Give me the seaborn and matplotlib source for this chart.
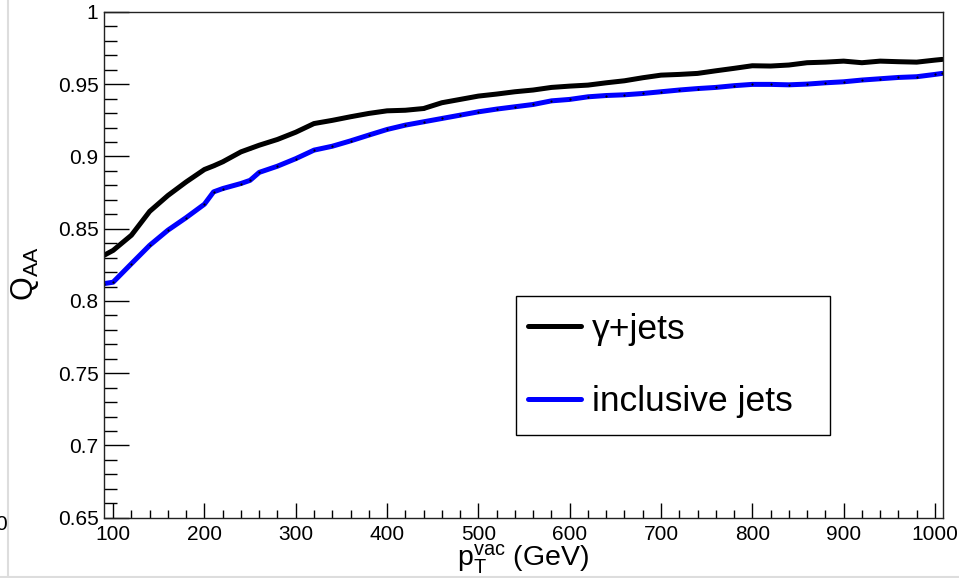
import numpy as np
import pandas as pd
import matplotlib
matplotlib.use("Agg")
import matplotlib.pyplot as plt
import seaborn as sns
from matplotlib.ticker import MultipleLocator
from matplotlib.patches import Rectangle
from matplotlib.lines import Line2D

# ---------------- data ----------------
pt_vac = [90, 100, 120, 140, 160, 180, 200, 210, 220, 240, 250, 260, 280, 300,
          320, 340, 360, 380, 400, 420, 440, 460, 480, 500, 520, 540, 560, 580,
          600, 620, 640, 660, 680, 700, 720, 740, 760, 780, 800, 820, 840, 860,
          880, 900, 920, 940, 960, 980, 1000, 1008]

q_gamma_jets = [0.8316, 0.8350, 0.8455, 0.8620, 0.8730, 0.8824, 0.8910, 0.8935,
                0.8963, 0.9032, 0.9055, 0.9078, 0.9118, 0.9168, 0.9228, 0.9250,
                0.9275, 0.9298, 0.9316, 0.9320, 0.9332, 0.9372, 0.9395, 0.9418,
                0.9432, 0.9448, 0.9460, 0.9478, 0.9487, 0.9494, 0.9510, 0.9524,
                0.9545, 0.9563, 0.9568, 0.9575, 0.9593, 0.9610, 0.9628, 0.9626,
                0.9633, 0.9649, 0.9653, 0.9660, 0.9649, 0.9660, 0.9656, 0.9653,
                0.9667, 0.9672]

q_inclusive_jets = [0.8120, 0.8130, 0.8258, 0.8385, 0.8490, 0.8577, 0.8670, 0.8755,
                    0.8778, 0.8813, 0.8835, 0.8890, 0.8933, 0.8985, 0.9044, 0.9071,
                    0.9108, 0.9148, 0.9187, 0.9217, 0.9240, 0.9263, 0.9286, 0.9309,
                    0.9328, 0.9344, 0.9360, 0.9385, 0.9395, 0.9413, 0.9422, 0.9427,
                    0.9436, 0.9448, 0.9460, 0.9470, 0.9478, 0.9490, 0.9499, 0.9499,
                    0.9496, 0.9501, 0.9510, 0.9517, 0.9529, 0.9538, 0.9547, 0.9552,
                    0.9568, 0.9575]

series_labels = ["\u03b3+jets", "inclusive jets"]
series_colors = ["#000000", "#0000ff"]

y_ticks = [0.65, 0.7, 0.75, 0.8, 0.85, 0.9, 0.95, 1.0]
y_tick_labels = ["0.65", "0.7", "0.75", "0.8", "0.85", "0.9", "0.95", "1"]
x_ticks = [100, 200, 300, 400, 500, 600, 700, 800, 900, 1000]

df = pd.concat([
    pd.DataFrame({"pt": pt_vac, "Q": q_gamma_jets, "series": series_labels[0]}),
    pd.DataFrame({"pt": pt_vac, "Q": q_inclusive_jets, "series": series_labels[1]}),
])

# ---------------- style ----------------
sns.set_theme(style="white")
plt.rcParams["font.family"] = ["Liberation Sans", "DejaVu Sans"]
plt.rcParams["mathtext.fontset"] = "custom"
plt.rcParams["mathtext.rm"] = "Liberation Sans"
plt.rcParams["mathtext.it"] = "Liberation Sans:italic"
plt.rcParams["mathtext.default"] = "regular"
plt.rcParams["text.color"] = "black"
plt.rcParams["xtick.color"] = "black"
plt.rcParams["ytick.color"] = "black"
plt.rcParams["xtick.labelcolor"] = "black"
plt.rcParams["ytick.labelcolor"] = "black"

W, H = 959, 578
fig = plt.figure(figsize=(W / 100, H / 100), dpi=100)
ax_l, ax_r, ax_t, ax_b = 104, 942.7, 12, 517.7
ax = fig.add_axes([ax_l / W, 1 - ax_b / H, (ax_r - ax_l) / W, (ax_b - ax_t) / H])

sns.lineplot(data=df, x="pt", y="Q", hue="series", palette=series_colors,
             linewidth=3.6, ax=ax, legend=False, sort=False,
             marker="o", markersize=1.6, markerfacecolor="black",
             markeredgewidth=0)

ax.set_xlim(90, 1008.5)
ax.set_ylim(0.65, 1.0)
ax.set_xlabel("")
ax.set_ylabel("")

ax.set_xticks(x_ticks)
ax.set_xticklabels([str(t) for t in x_ticks])
ax.xaxis.set_minor_locator(MultipleLocator(20))
ax.set_yticks(y_ticks)
ax.set_yticklabels(y_tick_labels)
ax.yaxis.set_minor_locator(MultipleLocator(0.01))

ax.tick_params(axis="both", which="both", direction="in", colors="black",
               labelsize=15, width=1.0, top=False, right=False,
               bottom=True, left=True)
ax.tick_params(axis="y", which="major", length=18, pad=4)
ax.tick_params(axis="y", which="minor", length=9)
ax.tick_params(axis="x", which="major", length=11, pad=5)
ax.tick_params(axis="x", which="minor", length=6)

for s in ax.spines.values():
    s.set_visible(True)
    s.set_color("#222222")
    s.set_linewidth(1.0)

# legend
handles = [Line2D([], [], color=c, lw=3.6) for c in series_colors]
leg = ax.legend(handles, series_labels, loc="center left",
                bbox_to_anchor=((527.7 - ax_l) / (ax_r - ax_l),
                                (ax_b - 365.5) / (ax_b - ax_t)),
                frameon=False, fontsize=25.5, handlelength=1.5,
                handletextpad=0.32, labelspacing=1.12, borderpad=0,
                borderaxespad=0)
for t in leg.get_texts():
    t.set_color("black")
frame = Rectangle(((515.7 - ax_l) / (ax_r - ax_l), (ax_b - 435) / (ax_b - ax_t)),
                  (830 - 515.7) / (ax_r - ax_l), (435 - 295.7) / (ax_b - ax_t),
                  transform=ax.transAxes, fill=False, lw=1.0, ec="black", zorder=5)
ax.add_patch(frame)

# axis titles
fig.text(523 / W, 1 - 559 / H, r"$p_{T}^{vac}$ (GeV)", fontsize=20.5,
         ha="center", va="center")
fig.text(25 / W, 1 - 274 / H, r"$Q_{AA}$", fontsize=22, rotation=90,
         ha="center", va="center")

# screenshot edge artefacts
fig.add_artist(Line2D([8 / W, 8 / W], [0, 1], transform=fig.transFigure,
                      color="#dddddd", lw=1.5))
fig.add_artist(Line2D([0, 1], [1 - 577 / H, 1 - 577 / H], transform=fig.transFigure,
                      color="#dddddd", lw=1.5))
fig.text(1 / W, 1 - 525 / H, "0", fontsize=15, ha="center", va="center")

fig.savefig("out.png", dpi=100)
